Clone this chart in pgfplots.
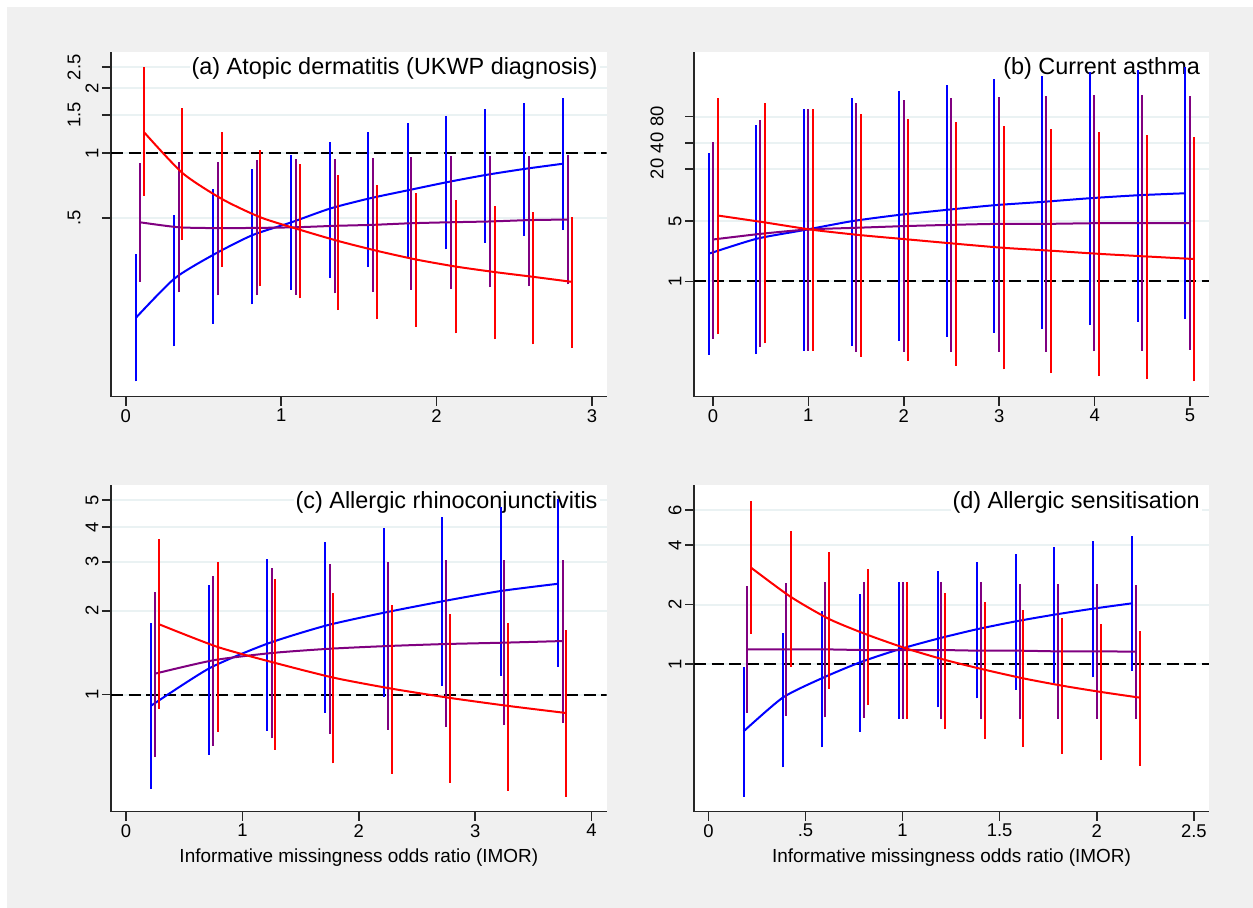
\documentclass[border=0pt]{standalone}
\usepackage{fontspec}
\setmainfont{Liberation Sans}
\usepackage{pgfplots}
\pgfplotsset{compat=1.18}
\definecolor{bgc}{RGB}{240,240,240}
\definecolor{gridc}{RGB}{234,242,243}
\definecolor{sblue}{RGB}{0,0,255}
\definecolor{spurple}{RGB}{128,0,128}
\definecolor{sred}{RGB}{255,0,0}
\newcommand{\lsh}[1]{\raisebox{18bp}{#1}}

\pgfplotsset{
  every axis/.append style={
    scale only axis,
    axis x line*=bottom, axis y line*=left,
    axis line style={-, line width=1.5bp, black!85},
    tick style={line width=1.5bp, black!85},
    major tick length=9bp, tick align=outside,
    ymajorgrids, grid style={line width=2bp, gridc},
    axis background/.style={fill=white},
    ticklabel style={font=\fontsize{18.5}{20}\selectfont},
    yticklabel style={rotate=90, anchor=south},
    xlabel style={font=\fontsize{19}{22}\selectfont, yshift=-5bp},
    unbounded coords=jump,
  },
}
\tikzset{
  ln/.style={color=#1, line width=2bp, mark=none, smooth, tension=0.4},
  bar/.style={color=#1, line width=2bp, mark=none},
  ttl/.style={anchor=north east, fill=white, inner sep=2bp,
    font=\fontsize{23.5}{26}\selectfont, xshift=-7bp, yshift=-4bp},
  refl/.style={black, line width=2.2bp, dash pattern=on 12bp off 5.5bp},
}

\begin{document}
\begin{tikzpicture}
\fill[white] (0,0) rectangle (1253bp,908bp);
\fill[bgc] (7bp,0) rectangle (1253bp,901bp);
\useasboundingbox (0,0) rectangle (1253bp,908bp);

% (a)
\begin{axis}[at={(111bp,511.3bp)}, anchor=south west,
  width=495.7bp, height=345bp, ymode=log,
  xmin=-0.095, xmax=3.095, ymin=0.0743, ymax=2.95,
  xtick={0,1,2,3}, xticklabels={0,1,2,3},
  ytick={0.5,1,1.5,2,2.5}, yticklabels={\lsh{.5},1,\lsh{1.5},2,\lsh{2.5}}]
\node[ttl] at (rel axis cs:1,1) {(a) Atopic dermatitis (UKWP diagnosis)};
\addplot[refl] coordinates {(-0.095,1) (3.095,1)};
% blue: bars (low, high) and estimates
\addplot[bar=sblue] coordinates {
(0.067,0.0875)(0.067,0.339)(0.067,nan) (0.313,0.127)(0.313,0.515)(0.313,nan)
(0.561,0.162)(0.561,0.682)(0.561,nan) (0.813,0.199)(0.813,0.844)(0.813,nan)
(1.064,0.232)(1.064,0.979)(1.064,nan) (1.314,0.265)(1.314,1.124)(1.314,nan)
(1.562,0.296)(1.562,1.25)(1.562,nan) (1.815,0.327)(1.815,1.376)(1.815,nan)
(2.063,0.358)(2.063,1.488)(2.063,nan) (2.313,0.384)(2.313,1.597)(2.313,nan)
(2.564,0.412)(2.564,1.708)(2.564,nan) (2.816,0.439)(2.816,1.808)};
\addplot[ln=sblue] coordinates {(0.067,0.173)(0.313,0.262)(0.561,0.337)(0.813,0.416)
(1.064,0.477)(1.314,0.553)(1.562,0.615)(1.815,0.672)(2.063,0.732)(2.313,0.791)(2.564,0.844)(2.816,0.893)};
% purple
\addplot[bar=spurple] coordinates {
(0.089,0.253)(0.089,0.899)(0.089,nan) (0.341,0.226)(0.341,0.905)(0.341,nan)
(0.592,0.219)(0.592,0.912)(0.592,nan) (0.842,0.219)(0.842,0.932)(0.842,nan)
(1.093,0.221)(1.093,0.938)(1.093,nan) (1.345,0.224)(1.345,0.942)(1.345,nan)
(1.593,0.227)(1.593,0.952)(1.593,nan) (1.838,0.232)(1.838,0.958)(1.838,nan)
(2.092,0.235)(2.092,0.965)(2.092,nan) (2.342,0.239)(2.342,0.972)(2.342,nan)
(2.596,0.242)(2.596,0.972)(2.596,nan) (2.843,0.246)(2.843,0.982)};
\addplot[ln=spurple] coordinates {(0.089,0.478)(0.341,0.453)(0.592,0.449)(0.842,0.450)
(1.093,0.453)(1.345,0.460)(1.593,0.465)(1.838,0.473)(2.092,0.478)(2.342,0.482)(2.596,0.489)(2.843,0.492)};
% red
\addplot[bar=sred] coordinates {
(0.119,0.635)(0.119,2.497)(0.119,nan) (0.365,0.395)(0.365,1.626)(0.365,nan)
(0.618,0.296)(0.618,1.25)(0.618,nan) (0.866,0.242)(0.866,1.029)(0.866,nan)
(1.121,0.212)(1.121,0.893)(1.121,nan) (1.369,0.187)(1.369,0.791)(1.369,nan)
(1.619,0.170)(1.619,0.712)(1.619,nan) (1.870,0.157)(1.870,0.653)(1.870,nan)
(2.122,0.146)(2.122,0.607)(2.122,nan) (2.373,0.137)(2.373,0.569)(2.373,nan)
(2.621,0.130)(2.621,0.536)(2.621,nan) (2.871,0.125)(2.871,0.508)};
\addplot[ln=sred] coordinates {(0.119,1.246)(0.365,0.808)(0.618,0.613)(0.866,0.504)
(1.121,0.441)(1.369,0.391)(1.619,0.352)(1.870,0.321)(2.122,0.298)(2.373,0.281)(2.621,0.267)(2.871,0.253)};
\end{axis}

% (b)
\begin{axis}[at={(694bp,511.3bp)}, anchor=south west,
  width=515bp, height=345bp, ymode=log,
  xmin=-0.198, xmax=5.198, ymin=0.0464, ymax=452,
  xtick={0,1,2,3,4,5}, xticklabels={0,1,2,3,4,5},
  ytick={1,5,20,40,80}, yticklabels={1,5,\lsh{20},\lsh{40},\lsh{80}}]
\node[ttl] at (rel axis cs:1,1) {(b) Current asthma};
\addplot[refl] coordinates {(-0.198,1) (5.198,1)};
\addplot[bar=sblue] coordinates {
(-0.043,0.141)(-0.043,30.4)(-0.043,nan) (0.455,0.144)(0.455,63.4)(0.455,nan)
(0.953,0.157)(0.953,97.0)(0.953,nan) (1.455,0.180)(1.455,131)(1.455,nan)
(1.953,0.205)(1.953,159)(1.953,nan) (2.451,0.228)(2.451,188)(2.451,nan)
(2.949,0.256)(2.949,217)(2.949,nan) (3.451,0.285)(3.451,239)(3.451,nan)
(3.949,0.311)(3.949,261)(3.949,nan) (4.451,0.340)(4.451,276)(4.451,nan)
(4.949,0.365)(4.949,298)};
\addplot[ln=sblue] coordinates {(-0.043,2.085)(0.455,3.10)(0.953,3.91)(1.455,4.96)(1.953,5.87)
(2.451,6.71)(2.949,7.59)(3.451,8.29)(3.949,9.14)(4.451,9.89)(4.949,10.43)};
\addplot[bar=spurple] coordinates {
(0.004,0.218)(0.004,40.8)(0.004,nan) (0.498,0.175)(0.498,73.1)(0.498,nan)
(0.996,0.157)(0.996,97.0)(0.996,nan) (1.498,0.153)(1.498,114)(1.498,nan)
(2.000,0.153)(2.000,125.5)(2.000,nan) (2.494,0.153)(2.494,133.5)(2.494,nan)
(2.996,0.153)(2.996,136)(2.996,nan) (3.494,0.153)(3.494,138)(3.494,nan)
(3.996,0.155)(3.996,142)(3.996,nan) (4.494,0.157)(4.494,142)(4.494,nan)
(4.996,0.162)(4.996,138)};
\addplot[ln=spurple] coordinates {(0.004,3.05)(0.498,3.54)(0.996,3.98)(1.498,4.16)(2.000,4.35)
(2.494,4.50)(2.996,4.62)(3.494,4.62)(3.996,4.70)(4.494,4.70)(4.996,4.70)};
\addplot[bar=sred] coordinates {
(0.051,0.245)(0.051,133.5)(0.051,nan) (0.549,0.193)(0.549,114)(0.549,nan)
(1.047,0.157)(1.047,97)(1.047,nan) (1.549,0.134)(1.549,86.5)(1.549,nan)
(2.047,0.120)(2.047,75.7)(2.047,nan) (2.545,0.106)(2.545,69.3)(2.545,nan)
(3.047,0.0958)(3.047,62.9)(3.047,nan) (3.545,0.0869)(3.545,58.1)(3.545,nan)
(4.043,0.0803)(4.043,53.6)(4.043,nan) (4.545,0.0741)(4.545,49.1)(4.545,nan)
(5.043,0.0697)(5.043,46.2)};
\addplot[ln=sred] coordinates {(0.051,5.77)(0.549,4.79)(1.047,3.94)(1.549,3.42)(2.047,3.05)
(2.545,2.72)(3.047,2.44)(3.545,2.26)(4.043,2.08)(4.545,1.94)(5.043,1.81)};
\end{axis}

% (c)
\begin{axis}[at={(111bp,96.3bp)}, anchor=south west,
  width=495.7bp, height=326.7bp, ymode=log,
  xmin=-0.129, xmax=4.13, ymin=0.380, ymax=5.66,
  xtick={0,1,2,3,4}, xticklabels={0,1,2,3,4},
  ytick={1,2,3,4,5}, yticklabels={1,2,3,4,5},
  xlabel={Informative missingness odds ratio (IMOR)}]
\node[ttl] at (rel axis cs:1,1) {(c) Allergic rhinoconjunctivitis};
\addplot[refl] coordinates {(-0.129,1) (4.13,1)};
\addplot[bar=sblue] coordinates {
(0.216,0.460)(0.216,1.803)(0.216,nan) (0.715,0.609)(0.715,2.468)(0.715,nan)
(1.214,0.743)(1.214,3.06)(1.214,nan) (1.713,0.862)(1.713,3.53)(1.713,nan)
(2.218,0.978)(2.218,3.98)(2.218,nan) (2.717,1.077)(2.717,4.33)(2.717,nan)
(3.219,1.170)(3.219,4.70)(3.219,nan) (3.714,1.260)(3.714,5.04)};
\addplot[ln=sblue] coordinates {(0.216,0.913)(0.715,1.243)(1.214,1.524)(1.713,1.768)
(2.218,1.970)(2.717,2.163)(3.219,2.356)(3.714,2.502)};
\addplot[bar=spurple] coordinates {
(0.251,0.597)(0.251,2.33)(0.251,nan) (0.747,0.656)(0.747,2.66)(0.747,nan)
(1.252,0.697)(1.252,2.857)(1.252,nan) (1.751,0.725)(1.751,2.936)(1.751,nan)
(2.249,0.747)(2.249,2.993)(2.249,nan) (2.748,0.766)(2.748,3.035)(2.748,nan)
(3.250,0.778)(3.250,3.035)(3.250,nan) (3.752,0.793)(3.752,3.052)};
\addplot[ln=spurple] coordinates {(0.251,1.190)(0.747,1.328)(1.252,1.411)(1.751,1.462)
(2.249,1.495)(2.748,1.520)(3.250,1.537)(3.752,1.558)};
\addplot[bar=sred] coordinates {
(0.286,0.891)(0.286,3.61)(0.286,nan) (0.788,0.733)(0.788,3.00)(0.788,nan)
(1.284,0.635)(1.284,2.60)(1.284,nan) (1.782,0.567)(1.782,2.31)(1.782,nan)
(2.281,0.519)(2.281,2.098)(2.281,nan) (2.786,0.483)(2.786,1.942)(2.786,nan)
(3.285,0.452)(3.285,1.808)(3.285,nan) (3.784,0.430)(3.784,1.706)};
\addplot[ln=sred] coordinates {(0.286,1.788)(0.788,1.483)(1.284,1.299)(1.782,1.151)
(2.281,1.051)(2.786,0.973)(3.285,0.911)(3.784,0.859)};
\end{axis}

% (d)
\begin{axis}[at={(694bp,96.3bp)}, anchor=south west,
  width=515bp, height=326.7bp, ymode=log,
  xmin=-0.074, xmax=2.578, ymin=0.179, ymax=8.05,
  xtick={0,0.5,1,1.5,2,2.5}, xticklabels={0,.5,1,1.5,2,2.5},
  ytick={1,2,4,6}, yticklabels={1,2,4,6},
  xlabel={Informative missingness odds ratio (IMOR)}]
\node[ttl] at (rel axis cs:1,1) {(d) Allergic sensitisation};
\addplot[refl] coordinates {(-0.074,1) (2.578,1)};
\addplot[bar=sblue] coordinates {
(0.181,0.213)(0.181,0.969)(0.181,nan) (0.383,0.300)(0.383,1.435)(0.383,nan)
(0.583,0.379)(0.583,1.854)(0.583,nan) (0.781,0.455)(0.781,2.252)(0.781,nan)
(0.981,0.529)(0.981,2.61)(0.981,nan) (1.181,0.604)(1.181,2.955)(1.181,nan)
(1.381,0.670)(1.381,3.294)(1.381,nan) (1.583,0.739)(1.583,3.588)(1.583,nan)
(1.781,0.805)(1.781,3.893)(1.781,nan) (1.981,0.856)(1.981,4.19)(1.981,nan)
(2.181,0.922)(2.181,4.44)};
\addplot[ln=sblue] coordinates {(0.181,0.456)(0.383,0.676)(0.583,0.846)(0.781,1.020)(0.981,1.186)
(1.181,1.343)(1.381,1.498)(1.583,1.644)(1.781,1.777)(1.981,1.906)(2.181,2.028)};
\addplot[bar=spurple] coordinates {
(0.200,0.567)(0.200,2.48)(0.200,nan) (0.402,0.546)(0.402,2.56)(0.402,nan)
(0.602,0.537)(0.602,2.61)(0.602,nan) (0.800,0.535)(0.800,2.61)(0.800,nan)
(1.000,0.529)(1.000,2.61)(1.000,nan) (1.200,0.529)(1.200,2.61)(1.200,nan)
(1.402,0.529)(1.402,2.59)(1.402,nan) (1.603,0.529)(1.603,2.54)(1.603,nan)
(1.801,0.529)(1.801,2.54)(1.801,nan) (2.003,0.529)(2.003,2.53)(2.003,nan)
(2.201,0.529)(2.201,2.50)};
\addplot[ln=spurple] coordinates {(0.200,1.186)(0.402,1.186)(0.602,1.186)(0.800,1.177)(1.000,1.177)
(1.200,1.177)(1.402,1.168)(1.603,1.168)(1.801,1.159)(2.003,1.159)(2.201,1.155)};
\addplot[bar=sred] coordinates {
(0.220,1.424)(0.220,6.71)(0.220,nan) (0.423,0.969)(0.423,4.73)(0.423,nan)
(0.622,0.750)(0.622,3.67)(0.622,nan) (0.822,0.620)(0.822,3.036)(0.822,nan)
(1.022,0.529)(1.022,2.61)(1.022,nan) (1.220,0.467)(1.220,2.287)(1.220,nan)
(1.422,0.417)(1.422,2.06)(1.422,nan) (1.622,0.382)(1.622,1.868)(1.622,nan)
(1.822,0.350)(1.822,1.716)(1.822,nan) (2.022,0.326)(2.022,1.587)(2.022,nan)
(2.222,0.306)(2.222,1.475)};
\addplot[ln=sred] coordinates {(0.220,3.072)(0.423,2.19)(0.622,1.689)(0.822,1.402)(1.022,1.196)
(1.220,1.048)(1.422,0.936)(1.622,0.846)(1.822,0.777)(2.022,0.722)(2.222,0.676)};
\end{axis}
\end{tikzpicture}
\end{document}
